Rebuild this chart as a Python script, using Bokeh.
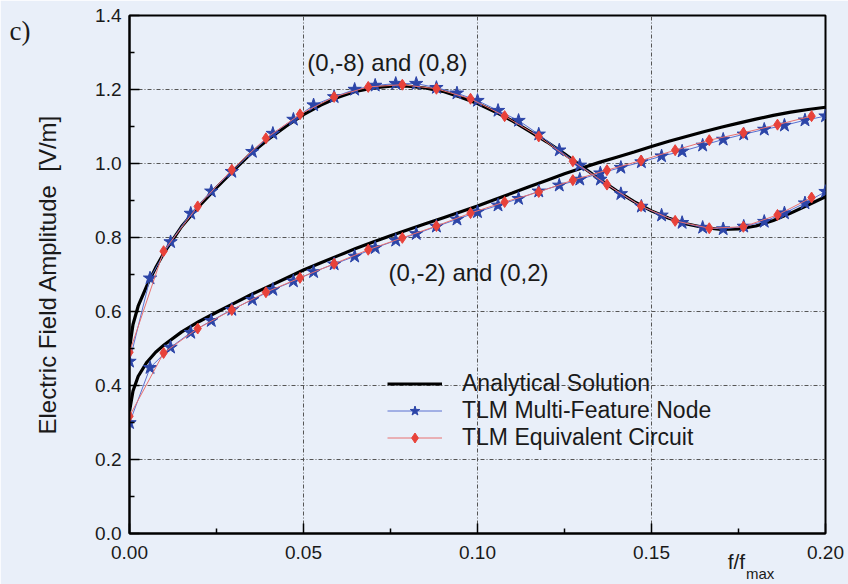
from bokeh.plotting import figure
from bokeh.models import (Range1d, FixedTicker, PrintfTickFormatter, LinearAxis,
                          Label, Legend, LegendItem)
from bokeh.embed import file_html
from bokeh.resources import INLINE

BG = "#e9eff9"
FONT = "Liberation Sans"
INK = "#1a1a1a"

# Axis ticks
x_ticks = [0.0, 0.05, 0.10, 0.15, 0.20]
x_minor = [0.025, 0.075, 0.125, 0.175]
y_ticks = [0.0, 0.2, 0.4, 0.6, 0.8, 1.0, 1.2, 1.4]
y_minor = [0.1, 0.3, 0.5, 0.7, 0.9, 1.1, 1.3]

# Analytical solution for the (0,-8)/(0,8) and (0,-2)/(0,2) field points
x_an = [0.0, 0.001, 0.0025, 0.005, 0.0075, 0.01, 0.015, 0.02, 0.025, 0.03,
        0.035, 0.04, 0.045, 0.05, 0.055, 0.06, 0.065, 0.07, 0.075, 0.08,
        0.085, 0.09, 0.095, 0.1, 0.105, 0.11, 0.115, 0.12, 0.125, 0.13,
        0.135, 0.14, 0.145, 0.15, 0.155, 0.16, 0.165, 0.17, 0.175, 0.18,
        0.185, 0.19, 0.195, 0.2]
an_08 = [0.50, 0.565, 0.615, 0.67, 0.718, 0.76, 0.83, 0.885, 0.935, 0.982,
         1.028, 1.066, 1.101, 1.132, 1.158, 1.179, 1.195, 1.204, 1.209, 1.209,
         1.204, 1.195, 1.18, 1.162, 1.14, 1.115, 1.087, 1.058, 1.026, 0.992,
         0.958, 0.926, 0.897, 0.872, 0.852, 0.837, 0.827, 0.822, 0.823, 0.831,
         0.846, 0.866, 0.888, 0.91]
an_02 = [0.33, 0.385, 0.425, 0.463, 0.49, 0.51, 0.545, 0.573, 0.598, 0.622,
         0.646, 0.668, 0.69, 0.712, 0.732, 0.751, 0.77, 0.788, 0.805, 0.821,
         0.837, 0.853, 0.869, 0.885, 0.903, 0.92, 0.938, 0.955, 0.972, 0.988,
         1.003, 1.017, 1.031, 1.046, 1.06, 1.073, 1.086, 1.098, 1.109, 1.12,
         1.13, 1.139, 1.146, 1.152]

# TLM multi-feature node
x_mfn = [0.0, 0.0059, 0.0118, 0.0176, 0.0235, 0.0294, 0.0353, 0.0412, 0.0471,
         0.0529, 0.0588, 0.0647, 0.0706, 0.0765, 0.0824, 0.0882, 0.0941, 0.1,
         0.1059, 0.1118, 0.1176, 0.1235, 0.1294, 0.1353, 0.1412, 0.1471,
         0.1529, 0.1588, 0.1647, 0.1706, 0.1765, 0.1824, 0.1882, 0.1941, 0.2]
mfn_08 = [0.465, 0.69, 0.788, 0.865, 0.925, 0.978, 1.032, 1.081, 1.119, 1.158,
          1.18, 1.2, 1.211, 1.216, 1.216, 1.205, 1.19, 1.17, 1.143, 1.116,
          1.079, 1.036, 0.995, 0.957, 0.918, 0.884, 0.86, 0.84, 0.827, 0.823,
          0.83, 0.843, 0.866, 0.893, 0.924]
mfn_02 = [0.299, 0.448, 0.503, 0.543, 0.575, 0.605, 0.632, 0.659, 0.682, 0.707,
          0.728, 0.749, 0.772, 0.792, 0.81, 0.83, 0.849, 0.869, 0.887, 0.905,
          0.925, 0.941, 0.957, 0.974, 0.989, 1.004, 1.02, 1.033, 1.049, 1.065,
          1.079, 1.092, 1.103, 1.117, 1.128]

# TLM equivalent circuit
x_ec = [0.0, 0.0098, 0.0196, 0.0294, 0.0392, 0.049, 0.0588, 0.0686, 0.0784,
        0.0882, 0.098, 0.1078, 0.1176, 0.1274, 0.1372, 0.147, 0.1568, 0.1666,
        0.1764, 0.1862, 0.196]
ec_08 = [0.49, 0.763, 0.884, 0.983, 1.068, 1.133, 1.18, 1.207, 1.213, 1.202,
         1.175, 1.128, 1.073, 1.006, 0.943, 0.885, 0.845, 0.825, 0.829, 0.861,
         0.908]
ec_02 = [0.317, 0.488, 0.554, 0.604, 0.652, 0.691, 0.729, 0.767, 0.799, 0.831,
         0.866, 0.896, 0.923, 0.955, 0.982, 1.008, 1.036, 1.063, 1.083, 1.105,
         1.128]

p = figure(width=848, height=584, output_backend="svg", toolbar_location=None,
           x_range=Range1d(0, 0.2), y_range=Range1d(0, 1.4),
           min_border_left=129, min_border_right=23,
           min_border_top=15, min_border_bottom=51)

p.background_fill_color = BG
p.border_fill_color = BG
p.outline_line_color = "black"
p.outline_line_width = 2

p.xaxis.ticker = FixedTicker(ticks=x_ticks, minor_ticks=x_minor)
p.yaxis.ticker = FixedTicker(ticks=y_ticks, minor_ticks=y_minor)
p.xaxis.formatter = PrintfTickFormatter(format="%.2f")
p.yaxis.formatter = PrintfTickFormatter(format="%.1f")

for ax in (p.xaxis, p.yaxis):
    ax.axis_line_color = "black"
    ax.axis_line_width = 2
    ax.major_tick_in = 10
    ax.major_tick_out = 0
    ax.minor_tick_in = 5
    ax.minor_tick_out = 0
    ax.major_tick_line_color = "black"
    ax.major_tick_line_width = 1.5
    ax.minor_tick_line_color = "black"
    ax.minor_tick_line_width = 1.5
    ax.major_label_text_font = FONT
    ax.major_label_text_font_size = "19px"
    ax.major_label_text_color = INK

p.xaxis.major_label_standoff = 12
p.yaxis.major_label_standoff = 8
p.yaxis.axis_label = "Electric Field Amplitude \u00a0[V/m]"
p.yaxis.axis_label_text_font = FONT
p.yaxis.axis_label_text_font_size = "24px"
p.yaxis.axis_label_text_font_style = "normal"
p.yaxis.axis_label_text_color = INK
p.yaxis.axis_label_standoff = 31


def text_axis(where, pos, text, size, standoff, font=FONT):
    """An axis without line or ticks that only carries one text label."""
    ax = LinearAxis(ticker=FixedTicker(ticks=[pos], minor_ticks=[]),
                    major_label_overrides={pos: text},
                    axis_line_color=None, major_tick_line_color=None,
                    minor_tick_line_color=None,
                    major_label_standoff=standoff,
                    major_label_text_font=font,
                    major_label_text_font_size=size,
                    major_label_text_color=INK)
    p.add_layout(ax, where)


# x-axis title f/f_max sits in the tick-label row, between 0.15 and 0.20
text_axis("below", 0.1744, "f/f", "21px", -18)
text_axis("below", 0.1812, "max", "15px", -17)
# panel tag
text_axis("left", 1.358, "c)", "27px", -5, font="Liberation Serif")

for g in (p.xgrid, p.ygrid):
    g.grid_line_color = "#555555"
    g.grid_line_width = 1
    g.grid_line_dash = "4 2 1 2"

# analytical curves
an_a = p.line(x_an, an_08, line_color="black", line_width=3.2)
p.line(x_an, an_02, line_color="black", line_width=3.2)

# multi-feature node results
BLUE = "#2c45a8"
mfn_l = p.line(x_mfn, mfn_08, line_color="#5a70d0", line_width=1)
p.line(x_mfn, mfn_02, line_color="#5a70d0", line_width=1)
mfn_s = p.scatter(x_mfn, mfn_08, marker="star", size=14, fill_color=BLUE,
                  line_color=BLUE)
p.scatter(x_mfn, mfn_02, marker="star", size=14, fill_color=BLUE,
          line_color=BLUE)

# equivalent circuit results
RED = "#e8423a"
ec_l = p.line(x_ec, ec_08, line_color="#e87070", line_width=1)
p.line(x_ec, ec_02, line_color="#e87070", line_width=1)
ec_s = p.scatter(x_ec, ec_08, marker="diamond", size=11, fill_color=RED,
                 line_color=RED)
p.scatter(x_ec, ec_02, marker="diamond", size=11, fill_color=RED,
          line_color=RED)

legend = Legend(items=[
    LegendItem(label="Analytical Solution", renderers=[an_a]),
    LegendItem(label="TLM Multi-Feature Node", renderers=[mfn_l, mfn_s]),
    LegendItem(label="TLM Equivalent Circuit", renderers=[ec_l, ec_s]),
], location=(258, 82))
legend.background_fill_alpha = 0
legend.border_line_alpha = 0
legend.padding = 0
legend.margin = 0
legend.glyph_width = 55
legend.glyph_height = 25
legend.label_height = 25
legend.spacing = -1
legend.label_standoff = 20
legend.label_text_font = FONT
legend.label_text_font_size = "23px"
legend.label_text_color = INK
p.add_layout(legend)


def note(x, y, text):
    p.add_layout(Label(x=x, y=y, text=text, text_font=FONT,
                       text_font_size="24px", text_color=INK,
                       text_align="center", text_baseline="middle"))


note(0.0741, 1.273, "(0,-8) and (0,8)")
note(0.0974, 0.705, "(0,-2) and (0,2)")

open("out.html", "w").write(file_html(p, INLINE))
